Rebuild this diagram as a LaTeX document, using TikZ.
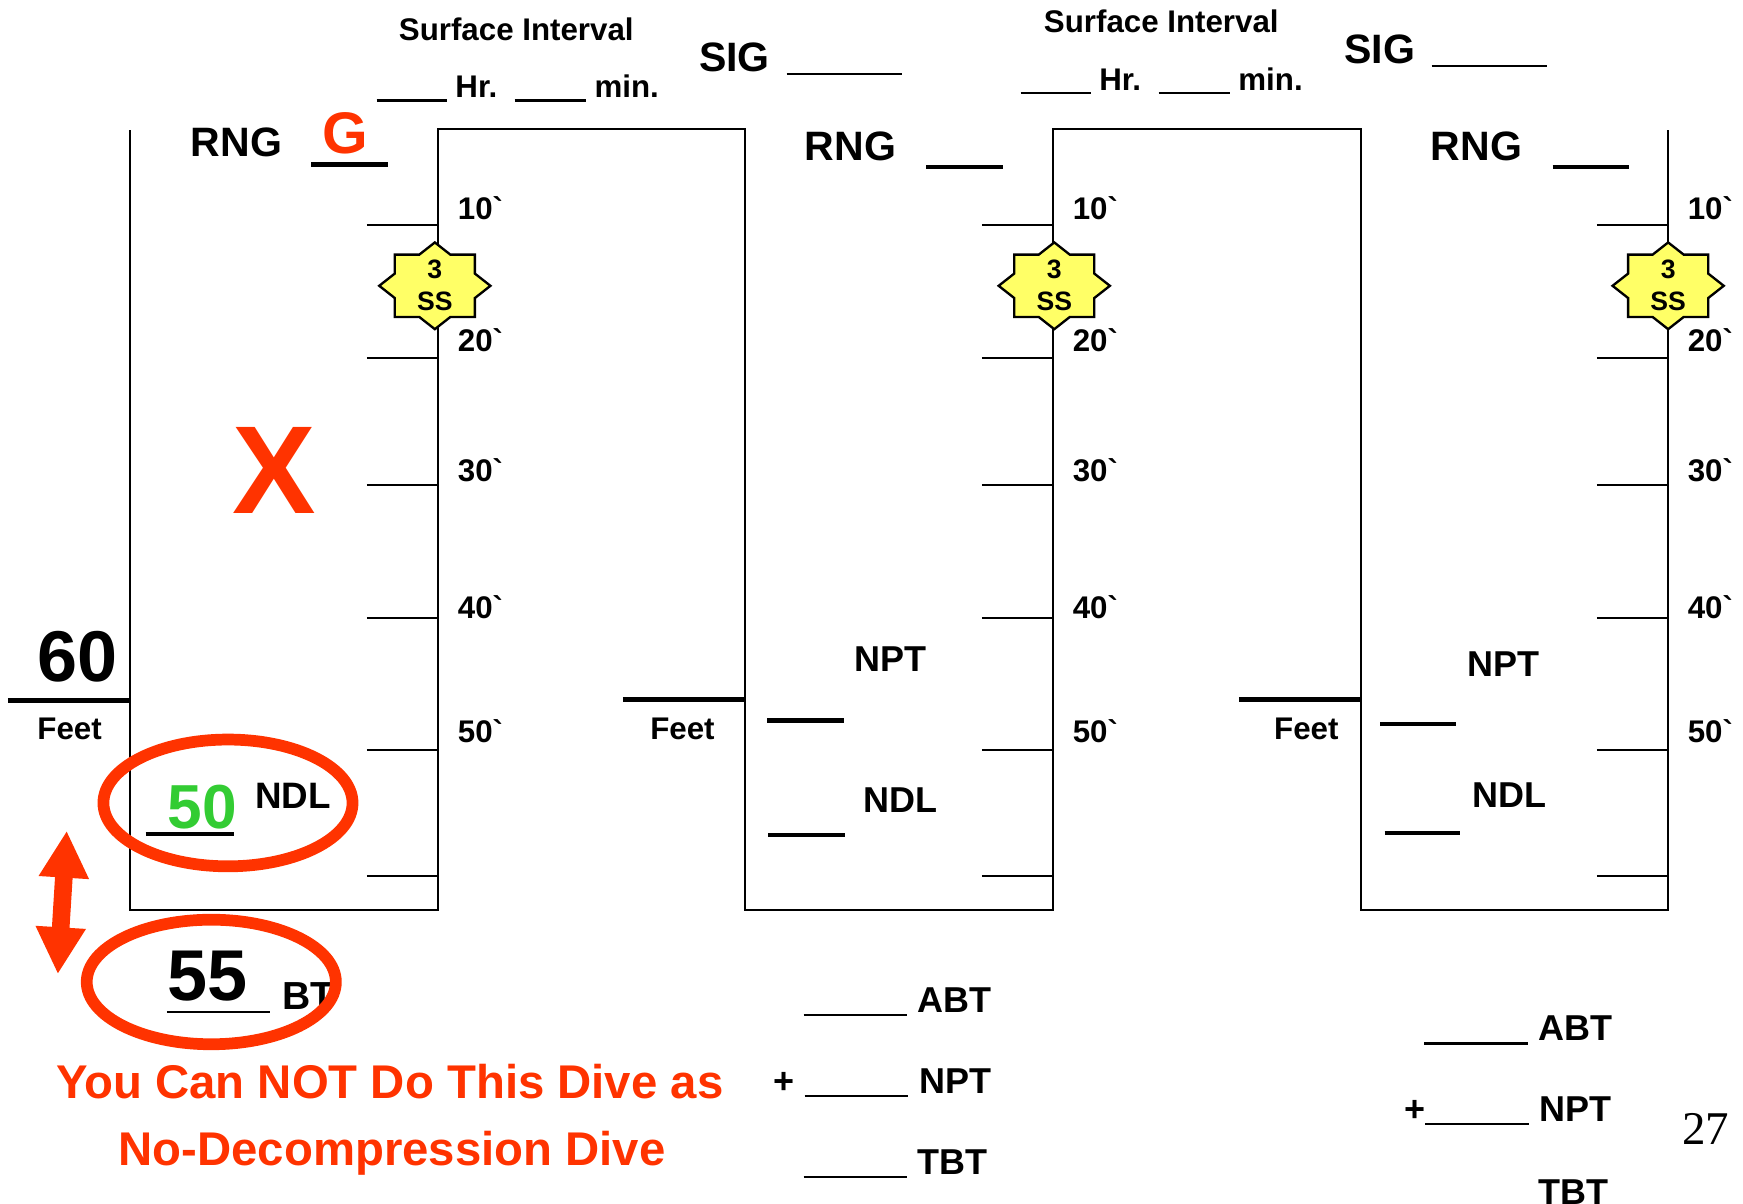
\documentclass[tikz,border=0pt]{standalone}
\usepackage{fontspec}
\setmainfont{Liberation Sans}[Ligatures=TeXOff]
\newfontfamily\serifpage{Liberation Serif}
\usetikzlibrary{arrows.meta}
\newcommand{\blankrule}[1]{\rule[-1pt]{#1}{0.6pt}}
\begin{document}
\begin{tikzpicture}[x=0.01cm, y=-0.01cm,
    frame/.style={line width=0.6pt},
    tick/.style={line width=0.5pt},
    blankline/.style={line width=1.1pt},
    lbl/.style={inner sep=0pt, anchor=base west, font=\bfseries\fontsize{8}{10}\selectfont},
    lblm/.style={lbl, font=\bfseries\fontsize{9.2}{11}\selectfont},
    lblb/.style={lbl, font=\bfseries\fontsize{10.5}{12}\selectfont},
    bignum/.style={lbl, font=\bfseries\fontsize{18.4}{22}\selectfont},
    ring/.style={draw=alertred, line width=3pt}]
        % Define colors
        \definecolor{alertred}{RGB}{255,51,0}
        \definecolor{okgreen}{RGB}{51,204,51}
        \definecolor{starfill}{RGB}{255,255,102}

        \useasboundingbox (0,0) rectangle (1567.3,1082.6);

        % Draw dive profile outline
        \draw[frame] (117,117) -- (117,818) -- (394,818) -- (394,116) -- (670,116) -- (670,818)
            -- (947,818) -- (947,116) -- (1224,116) -- (1224,818) -- (1500,818) -- (1500,117);

        % Depth ticks and labels
        \foreach \bx in {394,947,1500} {
            \foreach \ty in {202,322,436,556,674,788}
                \draw[tick] (\bx-64,\ty) -- (\bx,\ty);
            \foreach \d/\ty in {10/197,20/316,30/433,40/556,50/668}
                \node[lbl] (depth-\bx-\d) at (\bx+17,\ty) {\d\textasciigrave};
        }

        % Safety stop stars
        \foreach \cx in {391,948,1500} {
            \begin{scope}[shift={(\cx,257)}]
                \filldraw[fill=starfill, draw=black, line width=0.6pt]
                    (50,0) -- (36,11) -- (36,28) -- (14,28) -- (0,39) -- (-14,28) -- (-36,28) -- (-36,11)
                    -- (-50,0) -- (-36,-11) -- (-36,-28) -- (-14,-28) -- (0,-39) -- (14,-28) -- (36,-28) -- (36,-11) -- cycle;
            \end{scope}
            \node[inner sep=0pt, align=center, font=\bfseries\fontsize{6.8}{8.2}\selectfont] (stop\cx) at (\cx,257) {3\\SS};
        }

        % Surface intervals
        \node[lbl] (si1) at (358,36) {Surface Interval};
        \node[lbl] (hm1) at (338,88) {\blankrule{0.63cm} Hr.\ \ \blankrule{0.64cm} min.};
        \node[lblb] (sig1) at (628,64) {SIG\hspace{0.15cm}\blankrule{1.04cm}};
        \node[lbl] (si2) at (938,29) {Surface Interval};
        \node[lbl] (hm2) at (917,81) {\blankrule{0.63cm} Hr.\ \ \blankrule{0.64cm} min.};
        \node[lblb] (sig2) at (1208,57) {SIG\hspace{0.15cm}\blankrule{1.04cm}};

        % Groups
        \node[lblb] (rng1) at (171,141) {RNG};
        \node[lbl, font=\bfseries\fontsize{15}{18}\selectfont, text=alertred] (grp1) at (289,138) {G};
        \draw[blankline] (280,148) -- (349,148);
        \node[lblb] (rng2) at (723,144) {RNG};
        \draw[blankline] (833,150) -- (902,150);
        \node[lblb] (rng3) at (1286,144) {RNG};
        \draw[blankline] (1396,150) -- (1465,150);

        % Depth in feet
        \node[bignum] (depth1) at (33,613) {60};
        \draw[blankline] (7,630) -- (117,630);
        \node[lbl] (feet1) at (33,665) {Feet};
        \draw[blankline] (560,629) -- (670,629);
        \node[lbl] (feet2) at (584,665) {Feet};
        \draw[blankline] (1114,629) -- (1224,629);
        \node[lbl] (feet3) at (1145,665) {Feet};

        % First dive
        \node[lbl, font=\bfseries\fontsize{32}{36}\selectfont, text=alertred] (xmark) at (208,462) {X};
        \node[lbl, font=\bfseries\fontsize{15.9}{18}\selectfont, text=okgreen] (ndl1v) at (150,745) {50};
        \draw[blankline] (131,750) -- (210,750);
        \node[lbl, font=\bfseries\fontsize{9.4}{11}\selectfont] (ndl1) at (229,727) {NDL};
        \node[bignum] (bt1v) at (150,900) {55};
        \draw[tick] (150,910) -- (243,910);
        \node[lbl, font=\bfseries\fontsize{10}{12}\selectfont] (bt1) at (253,908) {BT};

        % Second and third dives
        \node[lblm] (npt2) at (768,604) {NPT};
        \draw[blankline] (690,648) -- (759,648);
        \node[lblm] (ndl2) at (776,731) {NDL};
        \draw[blankline] (691,751) -- (760,751);
        \node[lblm] (npt3) at (1319,608) {NPT};
        \draw[blankline] (1241,651) -- (1309,651);
        \node[lblm] (ndl3) at (1323,726) {NDL};
        \draw[blankline] (1245,749) -- (1313,749);

        % Bottom time sums
        \node[lblm] (abt2) at (722,910) {\blankrule{0.93cm}\hspace{0.09cm}ABT};
        \node[lblm] (nps2) at (695,983) {+\hspace{0.09cm}\blankrule{0.93cm}\hspace{0.1cm}NPT};
        \node[lblm] (tbt2) at (722,1056) {\blankrule{0.93cm}\hspace{0.09cm}TBT};
        \node[lblm] (abt3) at (1280,936) {\blankrule{0.93cm}\hspace{0.1cm}ABT};
        \node[lblm] (nps3) at (1262,1008) {+\blankrule{0.93cm}\hspace{0.1cm}NPT};
        \node[lblm] (tbt3) at (1280,1083) {\blankrule{0.93cm}\hspace{0.1cm}TBT};

        % Warning
        \node[lbl, font=\bfseries\fontsize{12.1}{15}\selectfont, text=alertred] (warn1) at (50,988) {You Can NOT Do This Dive as};
        \node[lbl, font=\bfseries\fontsize{12.1}{15}\selectfont, text=alertred] (warn2) at (106,1048) {No-Decompression Dive};

        % Rings and arrow
        \draw[ring] (205,722) ellipse [x radius=112, y radius=57];
        \draw[ring] (190,883) ellipse [x radius=112, y radius=56];
        \coordinate (arrtop) at (60,747);
        \coordinate (arrbot) at (52,876);
        \draw[alertred, line width=4.5pt, {Triangle[length=12pt,width=12pt]}-{Triangle[length=12pt,width=12pt]}] (arrtop) -- (arrbot);

        % Page number
        \node[lbl, font=\serifpage\fontsize{12}{14}\selectfont] (pageno) at (1512,1029) {27};
    \end{tikzpicture}
\end{document}
